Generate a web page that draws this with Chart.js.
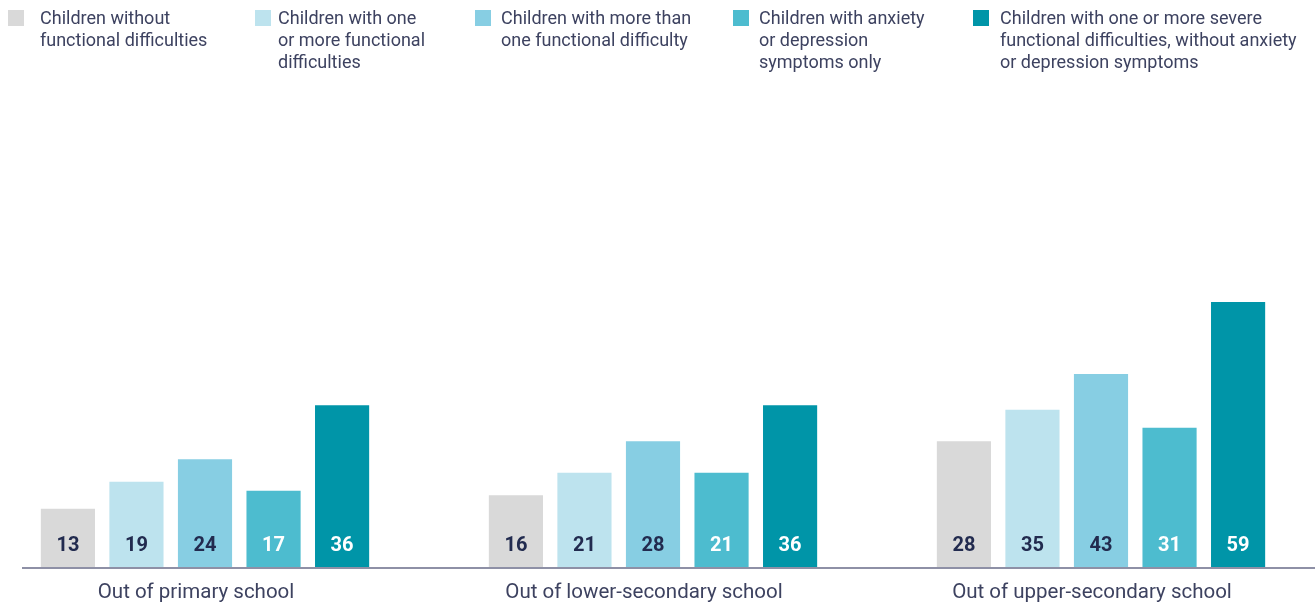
<!DOCTYPE html>
<html>
<head>
<meta charset="utf-8">
<script src="https://cdn.jsdelivr.net/npm/chart.js@4.4.0/dist/chart.umd.min.js"></script>
<style>
  html, body { margin: 0; padding: 0; background: #fff; overflow: hidden; }
  #wrap { position: relative; width: 1315px; height: 605px; overflow: hidden; }
  #canvas { position: absolute; left: -19px; top: 0; }
  #legend { position: absolute; left: 0; top: 0; width: 1315px; height: 80px;
            font-family: Roboto, "Liberation Sans", sans-serif; font-size: 18px;
            line-height: 22px; color: #3d4260; }
  .item { position: absolute; top: 7px; }
  .box { position: absolute; left: 0; top: 3px; width: 16px; height: 16px; }
  .txt { position: absolute; top: 0; white-space: nowrap; }
</style>
</head>
<body>
<div id="wrap">
  <canvas id="canvas" width="1344" height="605"></canvas>
  <div id="legend"></div>
</div>
<script>
var categories = ["Out of primary school", "Out of lower-secondary school", "Out of upper-secondary school"];
var seriesNames = [
	["Children without", "functional difficulties"],
	["Children with one", "or more functional", "difficulties"],
	["Children with more than", "one functional difficulty"],
	["Children with anxiety", "or depression", "symptoms only"],
	["Children with one or more severe", "functional difficulties, without anxiety", "or depression symptoms"]
];
var withoutDifficulties = [13, 16, 28];
var oneOrMore = [19, 21, 35];
var moreThanOne = [24, 28, 43];
var anxietyOnly = [17, 21, 31];
var severeNoAnxiety = [36, 36, 59];

var colors = ["#d9d9d9", "#bde3ee", "#87cee3", "#4dbccf", "#0095a8"];
var labelColors = ["#222b4f", "#222b4f", "#222b4f", "#ffffff", "#ffffff"];
var seriesData = [withoutDifficulties, oneOrMore, moreThanOne, anxietyOnly, severeNoAnxiety];

// legend positions (box left, text left)
var legendPos = [[8, 40], [255, 278], [475, 501], [733, 759], [973, 1000]];
var legend = document.getElementById('legend');
seriesNames.forEach(function (lines, i) {
	var item = document.createElement('div');
	item.className = 'item';
	item.style.left = legendPos[i][0] + 'px';
	var box = document.createElement('div');
	box.className = 'box';
	box.style.background = colors[i];
	var txt = document.createElement('div');
	txt.className = 'txt';
	txt.style.left = (legendPos[i][1] - legendPos[i][0]) + 'px';
	txt.innerHTML = lines.join('<br>');
	item.appendChild(box);
	item.appendChild(txt);
	legend.appendChild(item);
});

var valueLabels = {
	id: 'valueLabels',
	afterDatasetsDraw: function (chart) {
		var ctx = chart.ctx;
		ctx.save();
		ctx.font = 'bold 20px Roboto, "Liberation Sans", sans-serif';
		ctx.textAlign = 'center';
		ctx.textBaseline = 'middle';
		chart.data.datasets.forEach(function (ds, i) {
			chart.getDatasetMeta(i).data.forEach(function (bar, j) {
				ctx.fillStyle = labelColors[i];
				ctx.fillText(ds.data[j], bar.x, chart.chartArea.bottom - 21);
			});
		});
		ctx.restore();
	}
};

// canvas is shifted 19px left, so the line starts at 22px in the page
var axisLine = {
	id: 'axisLine',
	afterDatasetsDraw: function (chart) {
		var ctx = chart.ctx;
		ctx.save();
		ctx.strokeStyle = '#8e90a6';
		ctx.lineWidth = 2;
		ctx.beginPath();
		ctx.moveTo(41, chart.chartArea.bottom + 1);
		ctx.lineTo(chart.width, chart.chartArea.bottom + 1);
		ctx.stroke();
		ctx.restore();
	}
};

var ctx = document.getElementById('canvas').getContext('2d');
var myBar = new Chart(ctx, {
	type: 'bar',
	data: {
		labels: categories,
		datasets: seriesData.map(function (d, i) {
			return {
				label: seriesNames[i].join(' '),
				data: d,
				backgroundColor: colors[i],
				borderWidth: 0,
				categoryPercentage: 0.765,
				barPercentage: 0.79
			};
		})
	},
	options: {
		responsive: false,
		animation: false,
		layout: { padding: { top: 118, left: 0, right: 0, bottom: 0 } },
		plugins: { legend: { display: false }, tooltip: { enabled: false } },
		scales: {
			x: {
				grid: { display: false, drawTicks: false },
				border: { display: false },
				ticks: {
					color: '#3d4260',
					padding: 14,
					labelOffset: -9,
					font: { family: 'Roboto, "Liberation Sans", sans-serif', size: 20.5 }
				},
				afterFit: function (scale) { scale.height = 38; }
			},
			y: {
				display: false,
				min: 0,
				max: 100
			}
		}
	},
	plugins: [valueLabels, axisLine]
});
</script>
</body>
</html>
